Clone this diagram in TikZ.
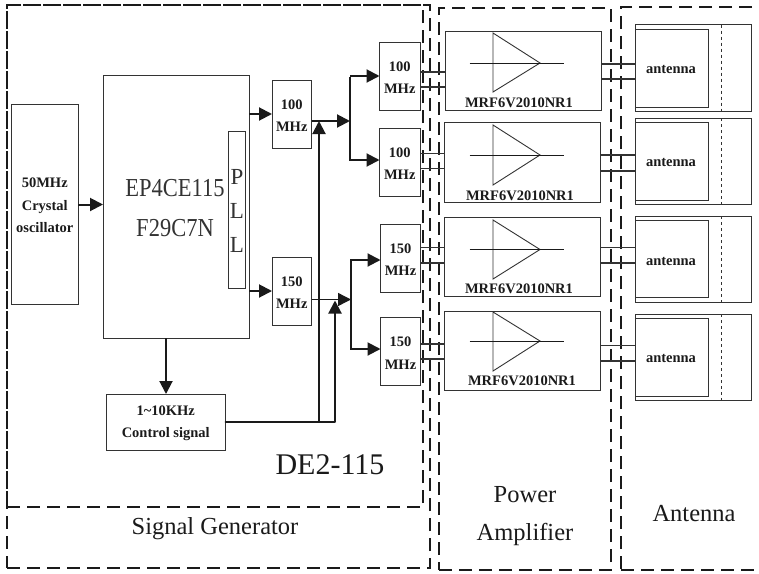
\documentclass[tikz,border=0pt]{standalone}
\usepackage{fontspec}
\setmainfont{Liberation Serif}
\usetikzlibrary{arrows.meta,calc}
\definecolor{ink}{HTML}{1A1A1A}
\definecolor{boxc}{HTML}{333333}
\newcommand{\bx}[6]{%
  \pgfmathsetmacro{\bw}{#4-#2}\pgfmathsetmacro{\bh}{#5-#3}%
  \pgfmathsetmacro{\cx}{(#4+#2)/2}\pgfmathsetmacro{\cy}{(#5+#3)/2}%
  \node[blk,minimum width=\bw pt,minimum height=\bh pt] (#1) at (\cx,\cy) {#6};}
\newcommand{\rg}[5]{%
  \pgfmathsetmacro{\bw}{#4-#2}\pgfmathsetmacro{\bh}{#5-#3}%
  \pgfmathsetmacro{\cx}{(#4+#2)/2}\pgfmathsetmacro{\cy}{(#5+#3)/2}%
  \node[region,minimum width=\bw pt,minimum height=\bh pt] (#1) at (\cx,\cy) {};}
\newcommand{\dn}{\rule{0pt}{12.5pt}}
\tikzset{
  blk/.style={draw=boxc,line width=0.9pt,inner sep=0pt,outer sep=0pt,align=center,font=\fontsize{14.5}{22.5}\selectfont\bfseries,text=ink},
  region/.style={draw=ink,line width=1.6pt,inner sep=0pt,outer sep=0pt,dash pattern=on 13pt off 7pt},
  arr/.style={draw=ink,line width=2pt,-{Triangle[length=13pt,width=13pt]}},
  wire/.style={draw=ink,line width=2pt},
  thin wire/.style={draw=boxc,line width=1.2pt},
  lab/.style={inner sep=0pt,align=center,text=ink,font=\fontsize{24.5}{38}\selectfont},
  blab/.style={inner sep=0pt,align=center,text=ink,font=\fontsize{14.5}{18}\selectfont\bfseries},
}
\begin{document}
\begin{tikzpicture}[x=1pt,y=-1pt]
\useasboundingbox (0,0) rectangle (759,573);
\fill[white] (0,0) rectangle (759,573);
% dashed regions
\rg{de}{7}{5}{423}{507}
\rg{sg}{7}{5}{430}{568}
\rg{pa}{439}{8}{611}{570}
\rg{an}{621}{7}{775}{570}
% left blocks
\bx{xtal}{11.5}{104}{78}{304}{\dn 50MHz\\Crystal\\oscillator}
\bx{fpga}{103}{75}{249}{338}{}
\bx{pll}{228.5}{131}{245.5}{288}{}
\node[inner sep=0pt,align=center,text=boxc,font=\fontsize{23}{34}\selectfont] (plltxt) at (237,211) {P\\L\\L};
\node[inner sep=0pt,align=center,text=boxc,font=\fontsize{22.5}{40}\selectfont] (fpgatxt) at (175,208) {\scalebox{1}[1.15]{EP4CE115}\\\scalebox{1}[1.15]{F29C7N}};
\bx{fa}{272}{80}{311.5}{148}{\dn 100\\MHz}
\bx{fb}{272}{257}{311.5}{325}{\dn 150\\MHz}
\bx{ctl}{106}{394}{225.5}{450}{\dn 1\textasciitilde10KHz\\Control signal}
% splitters
\bx{s1}{379.5}{42}{420}{110}{\dn 100\\MHz}
\bx{s2}{379.5}{128.5}{420}{196}{\dn 100\\MHz}
\bx{s3}{380.5}{224.5}{420.5}{292}{\dn 150\\MHz}
\bx{s4}{380.5}{317.5}{420.5}{385.5}{\dn 150\\MHz}
% amplifiers
\bx{p1}{445}{31}{601}{110}{}
\bx{p2}{444.5}{122.5}{600.5}{202}{}
\bx{p3}{444.5}{217}{600.5}{296}{}
\bx{p4}{444.5}{311}{600.5}{390}{}
\foreach \n/\yt/\ym/\yb in {1/33/63/92,2/125/155/185,3/220/249.5/279,4/312/341/371}{
  \draw[boxc,line width=0.9pt] (493,\yt) -- (540,\ym) -- (493,\yb) -- cycle;
  \draw[ink,line width=0.9pt] (469.5,\ym) -- (564,\ym);
}
\node[blab] (m1) at (519,103) {MRF6V2010NR1};
\node[blab] (m2) at (520,196) {MRF6V2010NR1};
\node[blab] (m3) at (519,289) {MRF6V2010NR1};
\node[blab] (m4) at (522,381) {MRF6V2010NR1};
% antennas
\foreach \n/\yt/\yi/\yj/\yb/\yl in {1/24.5/29/107/111/69,2/118/122/200/204/162,3/216/220/297/302/261,4/314/318/396/400/358}{
  \draw[boxc,line width=0.9pt] (635,\yt) rectangle (751,\yb);
  \draw[boxc,line width=0.9pt] (635,\yi) rectangle (708,\yj);
  \draw[boxc,line width=0.7pt,dashed] (721.5,\yt) -- (721.5,\yb);
  \coordinate (a\n) at (635,\yl);
  \node[blab] (at\n) at (671,\yl) {antenna};
}
% pairs of lines
\foreach \n/\ya/\yb in {1/72/87,2/153.5/168.5,3/247.5/263,4/344/359}{
  \draw[thin wire] (s\n.east |- 0,\ya) -- (p\n.west |- 0,\ya);
  \draw[thin wire] (s\n.east |- 0,\yb) -- (p\n.west |- 0,\yb);
}
\foreach \n/\ya/\yb in {1/64/79,2/155/171,3/247.5/263,4/345.5/361}{
  \draw[thin wire] (p\n.east |- 0,\ya) -- (a\n |- 0,\ya);
  \draw[thin wire] (p\n.east |- 0,\yb) -- (a\n |- 0,\yb);
}
% arrows
\draw[arr] (xtal.east |- 0,204.5) -- (fpga.west |- 0,204.5);
\draw[arr] (fpga.east |- 0,114) -- (fa.west |- 0,114);
\draw[arr] (fpga.east |- 0,291) -- (fb.west |- 0,291);
\draw[arr] (fpga.south -| 166,0) -- (ctl.north -| 166,0);
\coordinate (j1) at (350,121);
\coordinate (j2) at (351,299.5);
\draw[arr] (fa.east |- j1) -- (j1);
\draw[wire,line cap=rect] (j1 |- 0,78) -- (j1 |- 0,160);
\draw[arr] (j1 |- 0,76) -- (s1.west |- 0,76);
\draw[arr] (j1 |- 0,160) -- (s2.west |- 0,160);
\draw[arr,line width=1.4pt] (fb.east |- j2) -- (j2);
\draw[wire,line cap=rect] (j2 |- 0,260) -- (j2 |- 0,349);
\draw[arr] (j2 |- 0,260) -- (s3.west |- 0,260);
\draw[arr] (j2 |- 0,349) -- (s4.west |- 0,349);
\coordinate (k1) at (319,422);
\coordinate (k2) at (335,422);
\draw[wire,line cap=round] (ctl.east |- k1) -- (k2);
\draw[arr] (k1) -- (319,121);
\draw[arr] (k2) -- (335,300.5);
% labels
\node[inner sep=0pt,text=ink,font=\fontsize{30}{34}\selectfont] (dt) at (330,465) {DE2-115};
\node[lab] (st) at (215,529) {Signal Generator};
\node[lab] (pt) at (525,516) {Power\\Amplifier};
\node[lab] (at) at (694,514) {Antenna};
\end{tikzpicture}
\end{document}
